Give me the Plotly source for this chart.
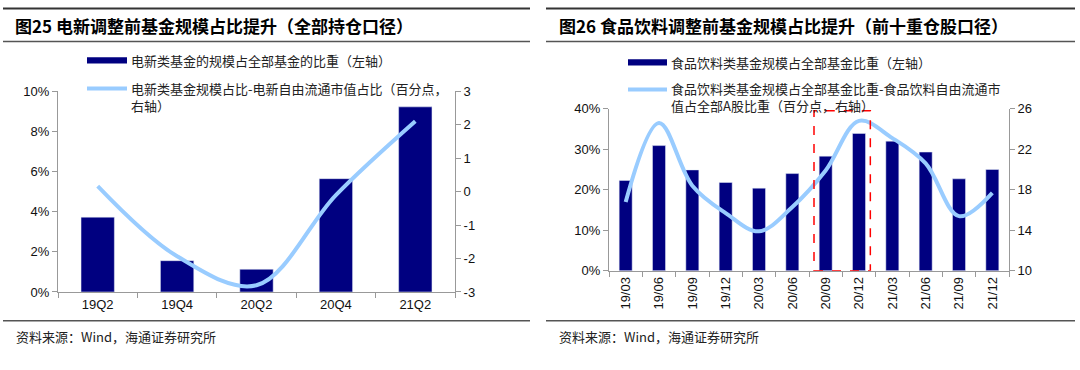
import plotly.graph_objects as go

W, H = 1080, 370

# ---------------- data ----------------
left_categories = ["19Q2", "19Q4", "20Q2", "20Q4", "21Q2"]
left_bar_values = [3.73, 1.56, 1.13, 5.65, 9.23]          # % (left axis)
left_line_values = [0.17, -1.93, -2.80, -0.10, 2.11]      # 百分点 (right axis)
left_right_tickvals = [-3, -2, -1, 0, 1, 2, 3]
left_right_ticktext = ["-3", "-2", "-1", "0", "1", "2", "3"]

right_categories = ["19/03", "19/06", "19/09", "19/12", "20/03", "20/06",
                    "20/09", "20/12", "21/03", "21/06", "21/09", "21/12"]
right_bar_values = [22.3, 30.9, 24.9, 21.8, 20.4, 24.0,
                    28.3, 33.9, 32.0, 29.3, 22.7, 25.0]    # % (left axis)
right_line_values = [16.8, 24.6, 18.4, 15.7, 13.9, 16.3,
                     19.9, 24.8, 23.1, 20.6, 15.4, 17.7]   # 百分点 (right axis)

left_title = "图25 电新调整前基金规模占比提升（全部持仓口径）"
right_title = "图26 食品饮料调整前基金规模占比提升（前十重仓股口径）"
left_bar_name = "电新类基金的规模占全部基金的比重（左轴）"
left_line_name = "电新类基金规模占比-电新自由流通市值占比（百分点，<br>右轴）"
right_bar_name = "食品饮料类基金规模占全部基金比重（左轴）"
right_line_name = "食品饮料类基金规模占全部基金比重-食品饮料自由流通市<br>值占全部A股比重（百分点，右轴）"
source_text = "资料来源：Wind，海通证券研究所"

BAR_COLOR = "#000080"
LINE_COLOR = "#99CCFF"
AXIS_COLOR = "#999999"
CJK = "Noto Sans CJK SC"
LATIN = "Liberation Sans, Arial, sans-serif"


def px_x(p):
    return p / W


def px_y(p):
    return 1 - p / H


fig = go.Figure()

fig.add_trace(go.Bar(x=left_categories, y=left_bar_values, marker_color=BAR_COLOR,
                     width=0.42, xaxis="x", yaxis="y", showlegend=False,
                     name="电新类基金的规模占全部基金的比重"))
fig.add_trace(go.Scatter(x=left_categories, y=left_line_values, mode="lines",
                         line=dict(color=LINE_COLOR, width=4, shape="spline", smoothing=1.0),
                         xaxis="x", yaxis="y2", showlegend=False,
                         name="电新类基金规模占比-电新自由流通市值占比"))
fig.add_trace(go.Bar(x=right_categories, y=right_bar_values, marker_color=BAR_COLOR,
                     width=0.39, xaxis="x2", yaxis="y3", showlegend=False,
                     name="食品饮料类基金规模占全部基金比重"))
fig.add_trace(go.Scatter(x=right_categories, y=right_line_values, mode="lines",
                         line=dict(color=LINE_COLOR, width=4, shape="spline", smoothing=1.0),
                         xaxis="x2", yaxis="y4", showlegend=False,
                         name="食品饮料类基金规模占全部基金比重-食品饮料自由流通市值占全部A股比重"))

tick_font = dict(family=LATIN, size=13, color="#111111")
axis_common = dict(showline=True, linecolor=AXIS_COLOR, linewidth=1, ticks="outside",
                   tickcolor=AXIS_COLOR, ticklen=5, tickwidth=1, showgrid=False,
                   zeroline=False, tickfont=tick_font, fixedrange=True)

fig.update_layout(
    width=W, height=H,
    margin=dict(l=0, r=0, t=0, b=0),
    paper_bgcolor="white", plot_bgcolor="white",
    bargap=0,
    xaxis=dict(domain=[px_x(58), px_x(455)], anchor="y", type="category",
               tickson="boundaries", **axis_common),
    yaxis=dict(domain=[px_y(297), px_y(88)], anchor="x", range=[0, 10], tick0=0, dtick=2,
               ticksuffix="%", **axis_common),
    yaxis2=dict(overlaying="y", side="right", anchor="x", range=[-3, 3],
                tickmode="array", tickvals=left_right_tickvals, ticktext=left_right_ticktext,
                **axis_common),
    xaxis2=dict(domain=[px_x(609), px_x(1009)], anchor="y3", type="category",
                tickson="boundaries", tickangle=-90, **axis_common),
    yaxis3=dict(domain=[px_y(275), px_y(106)], anchor="x2", range=[0, 40], tick0=0, dtick=10,
                ticksuffix="%", **axis_common),
    yaxis4=dict(overlaying="y3", side="right", anchor="x2", range=[10, 26], tick0=10, dtick=4,
                **axis_common),
)

shapes = []
# panel frame lines (title top / title bottom / footer)
for (x0, x1) in [(3, 530), (546, 1075)]:
    shapes.append(dict(type="line", xref="paper", yref="paper", x0=px_x(x0), x1=px_x(x1),
                       y0=px_y(1.5), y1=px_y(1.5), line=dict(color="#333333", width=2)))
    shapes.append(dict(type="line", xref="paper", yref="paper", x0=px_x(x0), x1=px_x(x1),
                       y0=px_y(36), y1=px_y(36), line=dict(color="#555555", width=1.5)))
    shapes.append(dict(type="line", xref="paper", yref="paper", x0=px_x(x0), x1=px_x(x1),
                       y0=px_y(327), y1=px_y(327), line=dict(color="#555555", width=1.5)))

# legend swatches
shapes.append(dict(type="rect", xref="paper", yref="paper", x0=px_x(87), x1=px_x(127),
                   y0=px_y(59), y1=px_y(52.5), fillcolor=BAR_COLOR, line=dict(width=0)))
shapes.append(dict(type="line", xref="paper", yref="paper", x0=px_x(87), x1=px_x(127),
                   y0=px_y(85), y1=px_y(85), line=dict(color=LINE_COLOR, width=4)))
shapes.append(dict(type="rect", xref="paper", yref="paper", x0=px_x(628), x1=px_x(667),
                   y0=px_y(61), y1=px_y(54.5), fillcolor=BAR_COLOR, line=dict(width=0)))
shapes.append(dict(type="line", xref="paper", yref="paper", x0=px_x(628), x1=px_x(667),
                   y0=px_y(86), y1=px_y(86), line=dict(color=LINE_COLOR, width=4)))

# red dashed highlight box around 20/09 - 20/12
shapes.append(dict(type="rect", xref="x2", yref="y3", x0=5.65, x1=7.34, y0=0, y1=39.5,
                   line=dict(color="#FF0000", width=1.5, dash="dash"), fillcolor="rgba(0,0,0,0)",
                   layer="above"))

fig.update_layout(shapes=shapes)

ann = []
title_font = dict(family=CJK, size=17, color="#000000")
ann.append(dict(xref="paper", yref="paper", x=px_x(13), y=px_y(19), text="<b>" + left_title + "</b>",
                xanchor="left", yanchor="middle", showarrow=False, font=title_font))
ann.append(dict(xref="paper", yref="paper", x=px_x(557), y=px_y(19), text="<b>" + right_title + "</b>",
                xanchor="left", yanchor="middle", showarrow=False, font=title_font))

leg_font = dict(family=CJK, size=13, color="#222222")
ann.append(dict(xref="paper", yref="paper", x=px_x(129), y=px_y(56), text=left_bar_name,
                xanchor="left", yanchor="middle", showarrow=False, font=leg_font))
ann.append(dict(xref="paper", yref="paper", x=px_x(129), y=px_y(93.5), text=left_line_name,
                xanchor="left", yanchor="middle", align="left", showarrow=False, font=leg_font))
ann.append(dict(xref="paper", yref="paper", x=px_x(669), y=px_y(57.5), text=right_bar_name,
                xanchor="left", yanchor="middle", showarrow=False, font=leg_font))
ann.append(dict(xref="paper", yref="paper", x=px_x(669), y=px_y(94), text=right_line_name,
                xanchor="left", yanchor="middle", align="left", showarrow=False, font=leg_font))

src_font = dict(family=CJK, size=13, color="#222222")
ann.append(dict(xref="paper", yref="paper", x=px_x(14), y=px_y(343), text=source_text,
                xanchor="left", yanchor="middle", showarrow=False, font=src_font))
ann.append(dict(xref="paper", yref="paper", x=px_x(557), y=px_y(343), text=source_text,
                xanchor="left", yanchor="middle", showarrow=False, font=src_font))

fig.update_layout(annotations=ann)

fig.write_html("out.html",
               config={"displayModeBar": False, "staticPlot": True},
               post_script="document.body.style.margin='0';document.body.style.overflow='hidden';")
